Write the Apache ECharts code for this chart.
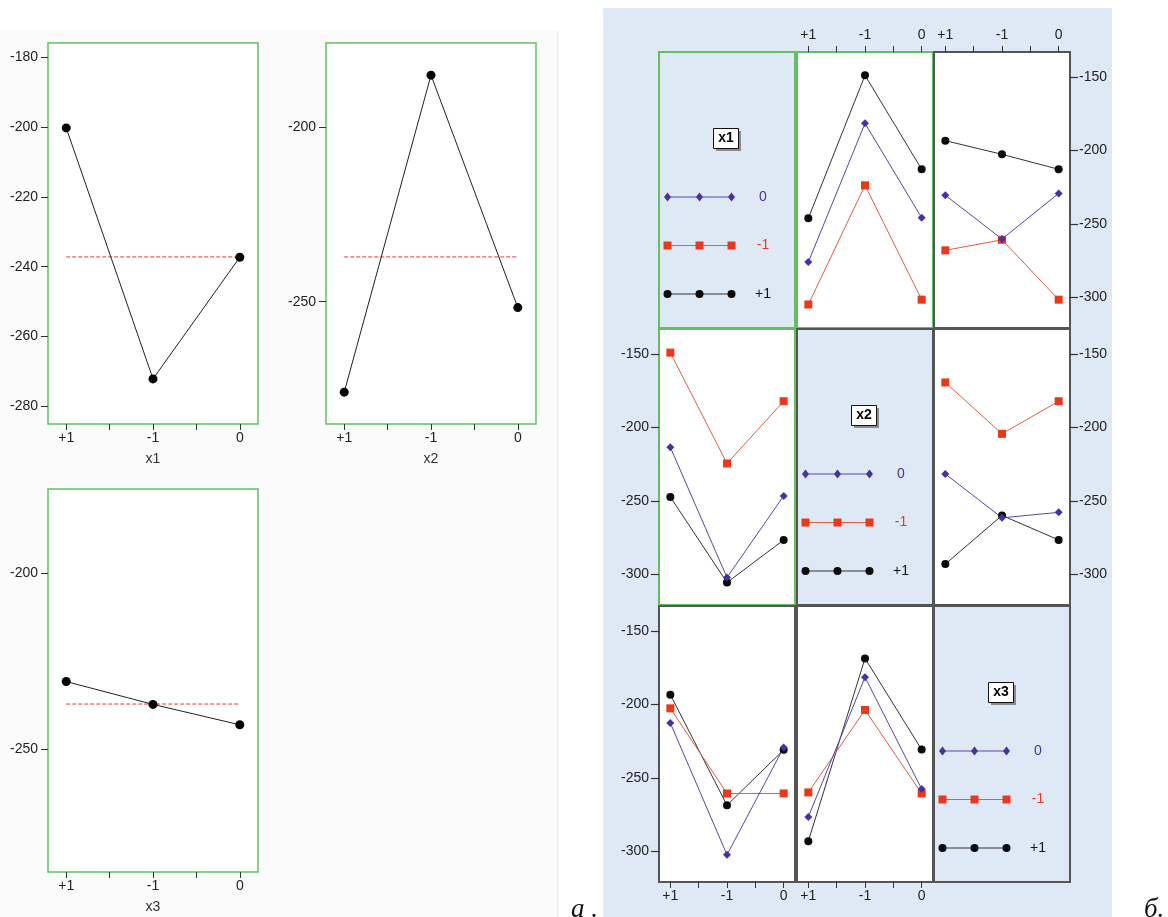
<!DOCTYPE html>
<html>
<head>
<meta charset="utf-8">
<script src="https://cdn.jsdelivr.net/npm/echarts@6/dist/echarts.min.js"></script>
<style>
html,body{margin:0;padding:0;background:#ffffff;}
#main{width:1168px;height:917px;}
</style>
</head>
<body>
<div id="main"></div>
<script>
// ---------- DATA ----------
// factor levels, in the order they appear along each x axis
const LEVELS = ['+1', '-1', '0'];
// trace (legend) levels, in legend order
const TRACE_LEVELS = ['0', '-1', '+1'];

// (a) main effects: response mean at each level of the factor
const effectX1 = [-200.3, -272.1, -237.3];
const effectX2 = [-275.9, -185.2, -251.7];
const effectX3 = [-230.8, -237.3, -243.1];
const grandMean = -237.2;

// tick labels
const yTicksX1 = [-280, -260, -240, -220, -200, -180];
const yTicksX2X3 = [-250, -200];
const yTicksInter = [-300, -250, -200, -150];
const xTickMarks = [0, 0.5, 1, 1.5, 2];
const xTickLabels = [0, 1, 2];

// (б) interaction plots: rows = traces in TRACE_LEVELS order ('0', '-1', '+1'),
// columns = levels along the x axis (LEVELS order '+1', '-1', '0')
const byX1_alongX2 = [[-276.1, -181.6, -245.9], [-305.0, -223.8, -301.7], [-246.3, -148.9, -212.9]];
const byX1_alongX3 = [[-230.6, -260.4, -229.3], [-268.1, -260.9, -301.7], [-193.4, -202.7, -212.9]];
const byX2_alongX1 = [[-213.6, -302.3, -246.7], [-149.1, -224.6, -182.2], [-247.4, -305.7, -276.7]];
const byX2_alongX3 = [[-231.8, -261.6, -257.9], [-169.4, -204.4, -182.2], [-293.1, -260.0, -276.7]];
const byX3_alongX1 = [[-212.7, -302.5, -229.4], [-202.7, -260.7, -260.7], [-193.4, -268.7, -231.0]];
const byX3_alongX2 = [[-276.7, -181.5, -257.7], [-260.0, -203.8, -260.7], [-293.2, -168.7, -230.8]];
const factorNames = ['x1', 'x2', 'x3'];

// ---------- STYLE / LAYOUT ----------
const FONT = 'Liberation Sans, Arial, sans-serif';
const TICK_FS = 14;
const GREEN = '#62c062';
const GREY_BORDER = '#555555';
const BLUE_BG = '#dfe9f6';
const traceStyles = [
  { color: '#4a2fa6', line: '#5a44b0', symbol: 'diamond', size: 8 },
  { color: '#e8391d', line: '#e85a44', symbol: 'rect', size: 8 },
  { color: '#0a0a0a', line: '#333333', symbol: 'circle', size: 8 }
];
const drawOrder = [2, 1, 0]; // black, red, blue (blue on top)

const grids = [], xAxes = [], yAxes = [], series = [], graphics = [];
const lvl = v => { const i = Math.round(v); return Math.abs(v - i) < 1e-6 ? (LEVELS[i] || '') : ''; };

function hiddenAxisParts() {
  return { axisLine: { show: false, onZero: false }, axisTick: { show: false }, axisLabel: { show: false }, splitLine: { show: false } };
}

// ---------- (a) main-effects panels ----------
const leftPanels = [
  { rect: { left: 48, top: 43, width: 210, height: 381 }, name: 'x1', values: effectX1, yTicks: yTicksX1 },
  { rect: { left: 326, top: 43, width: 210, height: 381 }, name: 'x2', values: effectX2, yTicks: yTicksX2X3 },
  { rect: { left: 48, top: 489, width: 210, height: 383 }, name: 'x3', values: effectX3, yTicks: yTicksX2X3 }
];
leftPanels.forEach(p => {
  const gi = grids.length;
  grids.push(Object.assign({ show: true, backgroundColor: '#ffffff', borderColor: GREEN, borderWidth: 1.5 }, p.rect));
  xAxes.push({
    type: 'value', gridIndex: gi, min: -0.21, max: 2.21, position: 'bottom',
    axisLine: { show: false, onZero: false }, splitLine: { show: false },
    axisTick: { show: true, customValues: xTickMarks, length: 6, lineStyle: { color: '#333', width: 1 } },
    axisLabel: { customValues: xTickLabels, formatter: lvl, color: '#222', fontSize: TICK_FS, fontFamily: FONT, margin: 7 },
    name: p.name, nameLocation: 'middle', nameGap: 28,
    nameTextStyle: { color: '#333', fontSize: TICK_FS, fontFamily: FONT }
  });
  yAxes.push({
    type: 'value', gridIndex: gi, min: -285, max: -176, position: 'left',
    axisLine: { show: false, onZero: false }, splitLine: { show: false },
    axisTick: { show: true, customValues: p.yTicks, length: 7, lineStyle: { color: '#333', width: 1 } },
    axisLabel: { customValues: p.yTicks, color: '#222', fontSize: TICK_FS, fontFamily: FONT, margin: 10 }
  });
  series.push({
    type: 'line', xAxisIndex: gi, yAxisIndex: gi, silent: true, symbol: 'none',
    data: [[0, grandMean], [LEVELS.length - 1, grandMean]],
    lineStyle: { color: '#e23a3a', width: 1, type: [4, 2] }, z: 2
  });
  series.push({
    type: 'line', xAxisIndex: gi, yAxisIndex: gi, silent: true,
    data: p.values.map((v, i) => [i, v]),
    symbol: 'circle', symbolSize: 9, showAllSymbol: true,
    itemStyle: { color: '#000' }, lineStyle: { color: '#222', width: 1 }, z: 3
  });
});

// ---------- (б) interaction matrix ----------
const colLeft = [659, 797, 934], colW = 136;
const rowTop = [52, 329, 606], rowH = 276;
const interaction = {
  '0,1': byX1_alongX2, '0,2': byX1_alongX3,
  '1,0': byX2_alongX1, '1,2': byX2_alongX3,
  '2,0': byX3_alongX1, '2,1': byX3_alongX2
};
const greenCells = ['0,0', '0,1', '1,0'];

graphics.push({ type: 'rect', shape: { x: 0, y: 30, width: 558, height: 887 }, style: { fill: '#fbfbfb' }, z: -20, silent: true });
graphics.push({ type: 'line', shape: { x1: 558, y1: 30, x2: 558, y2: 917 }, style: { stroke: '#e6e6e6', lineWidth: 1 }, z: -19, silent: true });
graphics.push({ type: 'rect', shape: { x: 603, y: 8, width: 509, height: 909 }, style: { fill: BLUE_BG }, z: -20, silent: true });

for (let r = 0; r < 3; r++) {
  for (let c = 0; c < 3; c++) {
    const key = r + ',' + c;
    const gi = grids.length;
    const isLegend = r === c;
    grids.push({
      left: colLeft[c], top: rowTop[r], width: colW, height: rowH, show: true,
      backgroundColor: isLegend ? BLUE_BG : '#ffffff',
      borderColor: greenCells.includes(key) ? GREEN : GREY_BORDER, borderWidth: 2
    });
    const showTop = r === 0 && c > 0;
    const showBottom = r === 2 && c < 2;
    const showLeft = c === 0 && r > 0;
    const showRight = c === 2 && r < 2;
    const xa = { type: 'value', gridIndex: gi, min: -0.2, max: 2.2, position: showTop ? 'top' : 'bottom' };
    if (showTop || showBottom) {
      Object.assign(xa, {
        axisLine: { show: false, onZero: false }, splitLine: { show: false },
        axisTick: { show: true, customValues: xTickMarks, length: 6, lineStyle: { color: '#333', width: 1 } },
        axisLabel: { customValues: xTickLabels, formatter: lvl, color: '#222', fontSize: TICK_FS, fontFamily: FONT, margin: showTop ? 10 : 7 }
      });
    } else Object.assign(xa, hiddenAxisParts());
    xAxes.push(xa);
    const ya = { type: 'value', gridIndex: gi, min: -321, max: -133, position: c === 2 ? 'right' : 'left' };
    if (showLeft || showRight) {
      Object.assign(ya, {
        axisLine: { show: false, onZero: false }, splitLine: { show: false },
        axisTick: { show: true, customValues: yTicksInter, length: 8, lineStyle: { color: '#333', width: 1.2 } },
        axisLabel: { customValues: yTicksInter, color: '#222', fontSize: TICK_FS, fontFamily: FONT, margin: showRight ? 9 : 10 }
      });
    } else Object.assign(ya, hiddenAxisParts());
    yAxes.push(ya);

    if (!isLegend) {
      const rows = interaction[key];
      drawOrder.forEach(k => {
        const st = traceStyles[k];
        series.push({
          type: 'line', xAxisIndex: gi, yAxisIndex: gi, silent: true,
          name: factorNames[r] + '=' + TRACE_LEVELS[k],
          data: rows[k].map((v, i) => [i, v]),
          symbol: st.symbol, symbolSize: st.size, showAllSymbol: true,
          itemStyle: { color: st.color }, lineStyle: { color: st.line, width: 1 }, z: 3
        });
      });
    } else {
      // legend inside diagonal cell
      const L = colLeft[c], T = rowTop[r], cx = L + colW / 2, cy = T + 87;
      graphics.push({ type: 'rect', shape: { x: cx - 11, y: cy - 8, width: 25, height: 20 }, style: { fill: '#8c8c8c' }, z: 50, silent: true });
      graphics.push({ type: 'rect', shape: { x: cx - 13.5, y: cy - 10.5, width: 25, height: 20 }, style: { fill: '#ffffff', stroke: '#111', lineWidth: 1 }, z: 51, silent: true });
      graphics.push({ type: 'text', x: cx - 1, y: cy - 0.5, style: { text: factorNames[r], fill: '#000', font: 'bold 14px ' + FONT, align: 'center', verticalAlign: 'middle' }, z: 52, silent: true });
      TRACE_LEVELS.forEach((lv, k) => {
        const st = traceStyles[k];
        const y = T + 145 + 48.5 * k;
        const xs = [L + 8.5, L + 40.5, L + 72.5];
        graphics.push({ type: 'line', shape: { x1: xs[0], y1: y, x2: xs[2], y2: y }, style: { stroke: st.line, lineWidth: 1.2 }, z: 50, silent: true });
        xs.forEach(x => {
          if (st.symbol === 'diamond') graphics.push({ type: 'polygon', shape: { points: [[x, y - 4.5], [x + 3.5, y], [x, y + 4.5], [x - 3.5, y]] }, style: { fill: st.color }, z: 51, silent: true });
          else if (st.symbol === 'rect') graphics.push({ type: 'rect', shape: { x: x - 4, y: y - 4, width: 8, height: 8 }, style: { fill: st.color }, z: 51, silent: true });
          else graphics.push({ type: 'circle', shape: { cx: x, cy: y, r: 4 }, style: { fill: st.color }, z: 51, silent: true });
        });
        graphics.push({ type: 'text', x: L + 104, y: y, style: { text: lv, fill: st.color === '#0a0a0a' ? '#111' : st.color, font: '14px ' + FONT, align: 'center', verticalAlign: 'middle' }, z: 51, silent: true });
      });
    }
  }
}

// panel captions
graphics.push({ type: 'text', x: 571, y: 923, style: { text: 'а .', fill: '#111', font: 'italic 27px Liberation Serif, serif', align: 'left', verticalAlign: 'bottom' }, z: 60, silent: true });
graphics.push({ type: 'text', x: 1144, y: 923, style: { text: 'б.', fill: '#111', font: 'italic 27px Liberation Serif, serif', align: 'left', verticalAlign: 'bottom' }, z: 60, silent: true });

const chart = echarts.init(document.getElementById('main'), null, { renderer: 'canvas' });
chart.setOption({
  animation: false,
  backgroundColor: '#ffffff',
  grid: grids,
  xAxis: xAxes,
  yAxis: yAxes,
  series: series,
  graphic: { elements: graphics }
});
</script>
</body>
</html>
